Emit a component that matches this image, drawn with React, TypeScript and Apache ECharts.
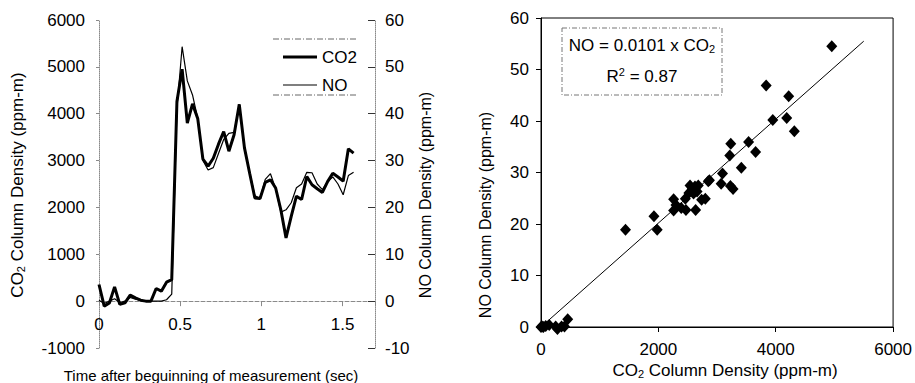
import React, { useEffect, useRef } from "react";
import * as echarts from "echarts";

// ---- Left chart: time series ----
const TIME = [
  0, 0.032, 0.064, 0.096, 0.128, 0.16, 0.192, 0.224, 0.256, 0.288,
  0.32, 0.352, 0.384, 0.416, 0.448, 0.48, 0.512, 0.544, 0.576, 0.608,
  0.64, 0.672, 0.704, 0.736, 0.768, 0.8, 0.832, 0.864, 0.896, 0.928,
  0.96, 0.992, 1.024, 1.056, 1.088, 1.12, 1.152, 1.184, 1.216, 1.248,
  1.28, 1.312, 1.344, 1.376, 1.408, 1.44, 1.472, 1.504, 1.536, 1.568,
];
const CO2 = [
  355, -107, -40, 305, -70, -35, 128, 70, 20, 0,
  0, 270, 213, 405, 460, 4260, 4950, 3800, 4210, 3900,
  3030, 2880, 3050, 3350, 3620, 3200, 3550, 4200, 3270, 2730,
  2200, 2190, 2535, 2590, 2415, 1950, 1350, 1810, 2240, 2170,
  2660, 2485, 2400, 2320, 2550, 2730, 2650, 2560, 3250, 3160,
];
const NO = [
  0.2, -0.5, 0, 0.5, -0.3, 0, 0.8, 0.4, 0.2, 0,
  0, 0, 0, 0.3, 1.5, 41, 54.3, 47, 44, 39,
  30, 28, 28.5, 31.5, 34.5, 35.8, 36, 42, 32.5, 27.5,
  22.5, 22, 26, 27.2, 24, 19, 19.5, 21, 24.2, 25,
  27.5, 27.4, 25, 23.8, 25.5, 26.5, 25, 22.7, 26.8, 27.5,
];
const LEGEND_NAMES = ["CO2", "NO"];

// ---- Right chart: scatter ----
const SCATTER_CO2 = [
  4955, 3837, 4221, 3950, 4187, 4317, 3234, 3538, 3657, 3217,
  3414, 3093, 3070, 3228, 3273, 2850, 2800, 2737, 2624, 2540,
  2580, 2660, 2600, 2680, 2520, 2635, 2460, 2470, 2390, 2260,
  2260, 2300, 1925, 1980, 1440, 2870, 0, 40, 80, 140,
  250, 280, 350, 400, 455, 20,
];
const SCATTER_NO = [
  54.5, 46.9, 44.8, 40.2, 40.6, 38.0, 35.6, 35.9, 34.0, 33.3,
  30.9, 29.8, 27.8, 27.4, 26.8, 28.3, 24.9, 24.7, 27.3, 27.5,
  26.8, 26.3, 25.9, 27.5, 26.0, 22.7, 24.9, 22.7, 23.1, 24.8,
  22.6, 23.7, 21.5, 18.9, 18.9, 28.5, 0, 0, 0.2, 0.4,
  0.1, -0.4, 0.1, 0.1, 1.5, 0.1,
];
const FIT_CO2 = [0, 5500];
const FIT_NO = [0, 55.5];
const FIT_TEXT = "NO = 0.0101 x CO";
const R2_TEXT = "0.87";

const FONT = "Liberation Sans, Arial, sans-serif";

// left grid geometry
const L_TOP = 20;
const L_H = 328;
const L_YMIN = -1000;
const L_YMAX = 6000;

export default function App() {
  const ref = useRef<HTMLDivElement>(null);
  useEffect(() => {
    if (!ref.current) return;
    const chart = echarts.init(ref.current, null, { renderer: "svg" });
    const grayLine = { color: "#8a8a8a", width: 1, type: "dotted" as const };
    const plain = (v: number) => String(v);
    const zeroOffset = -(L_H * (0 - L_YMIN)) / (L_YMAX - L_YMIN);
    const sub = { fontSize: 11, fontFamily: FONT, fill: "#000", padding: [7, 0, 0, 0] };
    const option: any = {
      animation: false,
      textStyle: { fontFamily: FONT, color: "#000" },
      grid: [
        { left: 99, top: L_TOP, width: 276, height: L_H },
        { left: 541, top: 18, width: 355, height: 309, show: true, borderColor: "#000", borderWidth: 1 },
      ],
      xAxis: [
        {
          gridIndex: 0, type: "value", min: 0, max: 1.7, interval: 0.5,
          position: "bottom", offset: zeroOffset,
          splitLine: { show: false },
          axisLine: { onZero: false, lineStyle: { color: "#8a8a8a", width: 1, type: "dashed" } },
          axisTick: { show: true, length: 5, lineStyle: { color: "#8a8a8a" } },
          axisLabel: {
            margin: 15, fontSize: 17, color: "#000", fontFamily: FONT,
            formatter: (v: number) => (Math.abs(v / 0.5 - Math.round(v / 0.5)) < 1e-6 ? String(v) : ""),
          },
        },
        {
          gridIndex: 1, type: "value", min: 0, max: 6000, interval: 2000,
          splitLine: { show: false },
          axisLine: { onZero: false, lineStyle: { color: "#000", width: 1 } },
          axisTick: { show: true, length: 5, lineStyle: { color: "#000" } },
          axisLabel: { margin: 14, fontSize: 17, color: "#000", fontFamily: FONT, formatter: plain },
        },
      ],
      yAxis: [
        {
          gridIndex: 0, type: "value", min: L_YMIN, max: L_YMAX, interval: 1000, position: "left",
          splitLine: { show: false },
          axisLine: { show: true, onZero: false, lineStyle: grayLine },
          axisTick: { show: true, length: 3, lineStyle: { color: "#8a8a8a" } },
          axisLabel: { margin: 14, fontSize: 17, color: "#000", fontFamily: FONT, formatter: plain },
        },
        {
          gridIndex: 0, type: "value", min: -10, max: 60, interval: 10, position: "right",
          splitLine: { show: false },
          axisLine: { show: true, onZero: false, lineStyle: grayLine },
          axisTick: { show: true, inside: true, length: 7, lineStyle: { color: "#333" } },
          axisLabel: { margin: 10, fontSize: 17, color: "#000", fontFamily: FONT, formatter: plain },
        },
        {
          gridIndex: 1, type: "value", min: 0, max: 60, interval: 10,
          splitLine: { show: false },
          axisLine: { show: true, onZero: false, lineStyle: { color: "#000", width: 1 } },
          axisTick: { show: true, length: 5, lineStyle: { color: "#000" } },
          axisLabel: { margin: 12, fontSize: 17, color: "#000", fontFamily: FONT, formatter: plain },
        },
      ],
      legend: {
        data: [
          { name: LEGEND_NAMES[0], icon: "path://M0,0H34V3H0Z" },
          { name: LEGEND_NAMES[1], icon: "path://M0,0H34V1H0Z" },
        ],
        orient: "vertical",
        left: 278,
        top: 42,
        itemWidth: 34,
        itemHeight: 14,
        itemGap: 8,
        symbolKeepAspect: true,
        textStyle: { fontSize: 17, color: "#000", fontFamily: FONT, lineHeight: 20 },
      },
      series: [
        {
          name: LEGEND_NAMES[0], type: "line", xAxisIndex: 0, yAxisIndex: 0,
          data: TIME.map((t, i) => [t, CO2[i]]),
          symbol: "none", lineStyle: { color: "#000", width: 3 }, itemStyle: { color: "#000" }, z: 3,
        },
        {
          name: LEGEND_NAMES[1], type: "line", xAxisIndex: 0, yAxisIndex: 1,
          data: TIME.map((t, i) => [t, NO[i]]),
          symbol: "none", lineStyle: { color: "#000", width: 1.2 }, itemStyle: { color: "#000" }, z: 4,
        },
        {
          type: "scatter", xAxisIndex: 1, yAxisIndex: 2,
          data: SCATTER_CO2.map((c, i) => [c, SCATTER_NO[i]]),
          symbol: "diamond", symbolSize: [11, 12], itemStyle: { color: "#000", opacity: 1 }, clip: false, z: 3,
        },
        {
          type: "line", xAxisIndex: 1, yAxisIndex: 2,
          data: FIT_CO2.map((c, i) => [c, FIT_NO[i]]),
          symbol: "none", lineStyle: { color: "#000", width: 1 }, z: 2,
        },
      ],
      graphic: [
        // legend frame (top and bottom rules)
        { type: "line", shape: { x1: 273, y1: 39, x2: 357, y2: 39 }, style: { stroke: "#666", lineWidth: 1, lineDash: [6, 2, 1, 2] } },
        { type: "line", shape: { x1: 273, y1: 95, x2: 357, y2: 95 }, style: { stroke: "#666", lineWidth: 1, lineDash: [6, 2, 1, 2] } },
        // left chart titles
        {
          type: "text", x: 211, y: 375,
          style: { text: "Time after beguinning of measurement (sec)", fontSize: 15, fontFamily: FONT, fill: "#000", align: "center", verticalAlign: "middle" },
        },
        {
          type: "text", x: 17, y: 185, rotation: Math.PI / 2,
          style: {
            text: "{a|CO}{s|2}{a| Column Density (ppm-m)}",
            rich: { a: { fontSize: 17, fontFamily: FONT, fill: "#000" }, s: sub },
            align: "center", verticalAlign: "middle",
          },
        },
        {
          type: "text", x: 425, y: 195, rotation: Math.PI / 2,
          style: { text: "NO Column Density (ppm-m)", fontSize: 16, fontFamily: FONT, fill: "#000", align: "center", verticalAlign: "middle" },
        },
        // right chart titles
        {
          type: "text", x: 725, y: 370,
          style: {
            text: "{a|CO}{s|2}{a| Column Density (ppm-m)}",
            rich: { a: { fontSize: 17, fontFamily: FONT, fill: "#000" }, s: sub },
            align: "center", verticalAlign: "middle",
          },
        },
        {
          type: "text", x: 485, y: 215, rotation: Math.PI / 2,
          style: { text: "NO Column Density (ppm-m)", fontSize: 16, fontFamily: FONT, fill: "#000", align: "center", verticalAlign: "middle" },
        },
        // regression annotation box
        {
          type: "rect", shape: { x: 562, y: 28, width: 160, height: 67 },
          style: { fill: "none", stroke: "#777", lineWidth: 1, lineDash: [5, 2, 1, 2] },
        },
        {
          type: "text", x: 642, y: 45,
          style: {
            text: "{a|" + FIT_TEXT + "}{s|2}",
            rich: { a: { fontSize: 17, fontFamily: FONT, fill: "#000" }, s: sub },
            align: "center", verticalAlign: "middle",
          },
        },
        {
          type: "text", x: 642, y: 76,
          style: {
            text: "{a|R}{p|2}{a| = " + R2_TEXT + "}",
            rich: { a: { fontSize: 17, fontFamily: FONT, fill: "#000" }, p: { fontSize: 11, fontFamily: FONT, fill: "#000", padding: [0, 0, 8, 0] } },
            align: "center", verticalAlign: "middle",
          },
        },
      ],
    };
    chart.setOption(option);
    return () => chart.dispose();
  }, []);
  return (
    <div
      ref={ref}
      style={{ position: "fixed", left: 0, top: 0, width: 915, height: 383, background: "#fff" }}
    />
  );
}
